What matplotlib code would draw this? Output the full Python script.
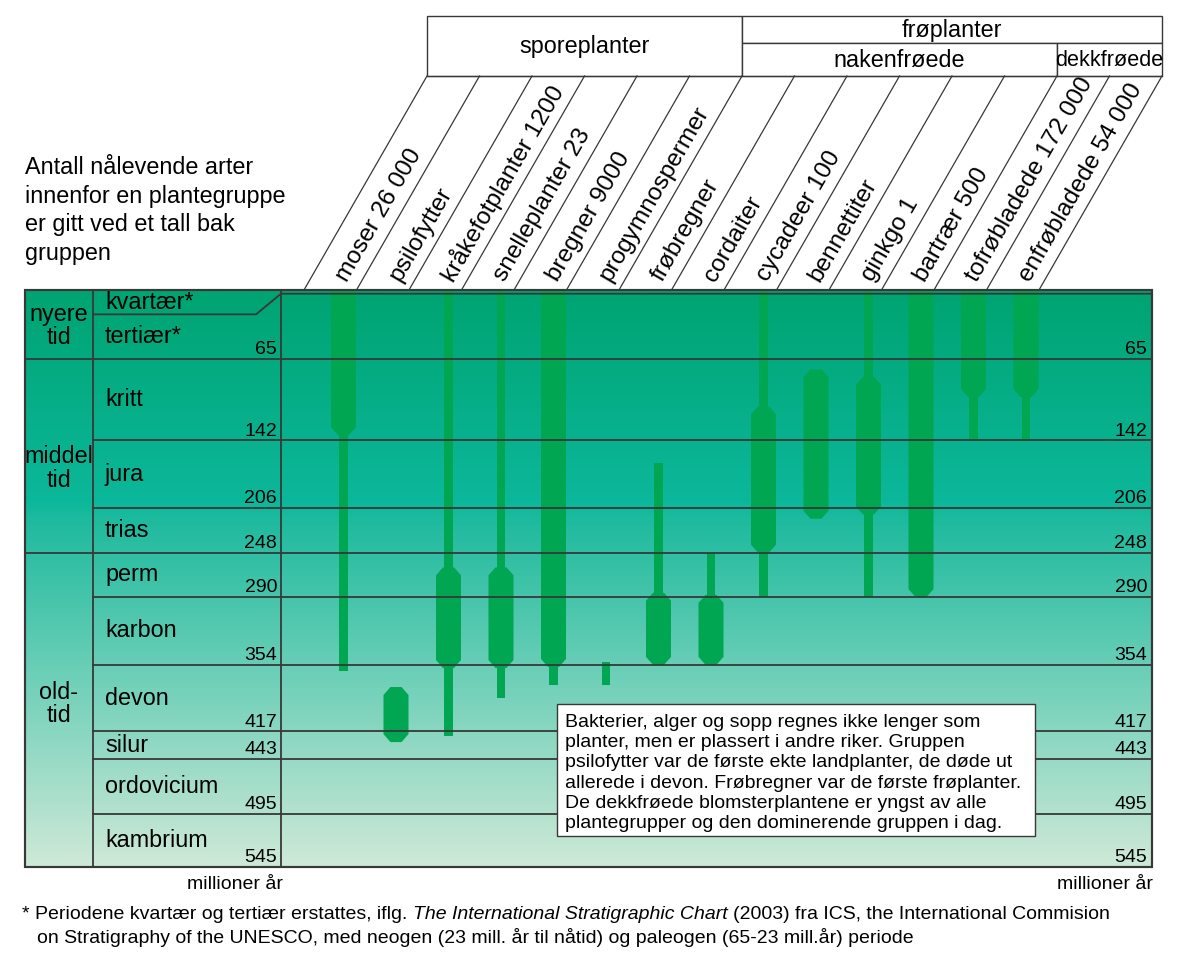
import matplotlib
matplotlib.use('Agg')
import matplotlib.pyplot as plt
import numpy as np
from matplotlib.patches import Polygon, Rectangle
from matplotlib.colors import LinearSegmentedColormap

plt.rcParams['font.family'] = ['Liberation Sans', 'DejaVu Sans']

# plantegrupper og antall nålevende arter
groups = ['moser', 'psilofytter', 'kråkefotplanter', 'snelleplanter', 'bregner',
          'progymnospermer', 'frøbregner', 'cordaiter', 'cycadeer', 'bennettiter',
          'ginkgo', 'bartrær', 'tofrøbladede', 'enfrøbladede']
species = ['26 000', '', '1200', '23', '9000', '', '', '', '100', '', '1', '500',
           '172 000', '54 000']

# tynn strek = gruppen finnes, tykk del = mange arter (mill. år siden)
thin = [(0, 360), None, (0, 421), (0, 385), (0, 373), (351, 373), (163, 354),
        (248, 354), (0, 290), None, (0, 290), None, (0, 141), (0, 141)]
thick = [(0, 137), (375, 427), (262, 357), (262, 357), (0, 356), None, (286, 354),
         (288, 354), (110, 248), (75, 216), (82, 212), (0, 290), (0, 101), (0, 101)]

periods = ['kvartær*', 'tertiær*', 'kritt', 'jura', 'trias', 'perm', 'karbon',
           'devon', 'silur', 'ordovicium', 'kambrium']
period_end = [3.5, 65, 142, 206, 248, 290, 354, 417, 443, 495, 545]
eras = ['nyere\ntid', 'middel\ntid', 'old-\ntid']
era_end = [65, 248, 545]

# (tekst, første kolonne, siste kolonne, øverste rad, nederste rad)
headers = [('sporeplanter', 0, 6, 0, 2), ('frøplanter', 6, 14, 0, 1),
           ('nakenfrøede', 6, 12, 1, 2), ('dekkfrøede', 12, 14, 1, 2)]

note = ['Bakterier, alger og sopp regnes ikke lenger som',
        'planter, men er plassert i andre riker. Gruppen',
        'psilofytter var de første ekte landplanter, de døde ut',
        'allerede i devon. Frøbregner var de første frøplanter.',
        'De dekkfrøede blomsterplantene er yngst av alle',
        'plantegrupper og den dominerende gruppen i dag.']
intro = ['Antall nålevende arter', 'innenfor en plantegruppe',
         'er gitt ved et tall bak', 'gruppen']

# --- layout (piksler) ---
W, H = 1200, 965
X0, STEP = 343.5, 52.5          # midten av første kolonne, kolonnebredde
LEFT, RIGHT, TOP, BOTTOM = 25, 1152, 290, 867
ERA_X, PER_X = 93, 281
GREEN = '#00A651'
LINE = '#383838'
BIG, SMALL = 16.8, 14


def ix(p):
    return (p - X0) / STEP


fig = plt.figure(figsize=(W / 100, H / 100), dpi=100)
tab = fig.add_axes([LEFT / W, 1 - BOTTOM / H, (RIGHT - LEFT) / W, (BOTTOM - TOP) / H])
xlo, xhi = ix(LEFT), ix(RIGHT)
tab.set_xlim(xlo, xhi)
tab.set_ylim(545, 0)
tab.axis('off')

cmap = LinearSegmentedColormap.from_list('bg', [
    (0, '#00A472'), (200 / 545, '#0CB89B'), (215 / 545, '#1DBA9E'), (1, '#CEE9D7')])
grad = np.linspace(0, 545, 400).reshape(-1, 1)
tab.imshow(grad, extent=[xlo, xhi, 545, 0], aspect='auto', cmap=cmap,
           vmin=0, vmax=545, zorder=0)

# søyler
wide = 25 / STEP
narrow = 8.5 / STEP
cx, cy = 7 / STEP, 7.5
for i in range(len(groups)):
    if thin[i]:
        a, b = thin[i]
        tab.bar(i, b - a, bottom=a, width=narrow, color=GREEN, zorder=2)
    if thick[i]:
        a, b = thick[i]
        h = wide / 2
        if a > 0:
            pts = [(i - h, a + cy), (i - h + cx, a), (i + h - cx, a), (i + h, a + cy)]
        else:
            pts = [(i - h, a), (i + h, a)]
        pts += [(i + h, b - cy), (i + h - cx, b), (i - h + cx, b), (i - h, b - cy)]
        tab.add_patch(Polygon(pts, closed=True, fc=GREEN, ec='none', zorder=2))

# tabellinjer
lw = 1.3
kv_label = 23   # kvartær-raden er tegnet høyere i navnekolonnen
for k, (name, end) in enumerate(zip(periods, period_end)):
    start = 0 if k == 0 else period_end[k - 1]
    if k == 0:
        tab.plot([ix(ERA_X), ix(256), ix(PER_X), xhi], [kv_label, kv_label, end, end],
                 color=LINE, lw=lw, zorder=3)
        mid = kv_label / 2
    else:
        if k == 1:
            mid = (kv_label + end) / 2
        else:
            mid = (start + end) / 2
        if end < 545:
            x_from = xlo if end in era_end else ix(ERA_X)
            tab.plot([x_from, xhi], [end, end], color=LINE, lw=lw, zorder=3)
        tab.text(ix(277), end - 4.5, str(end), ha='right', va='baseline', fontsize=SMALL, zorder=4)
        tab.text(ix(1147), end - 4.5, str(end), ha='right', va='baseline', fontsize=SMALL, zorder=4)
    tab.text(ix(105), mid, name, ha='left', va='center', fontsize=BIG, zorder=4)

era_label_at = [34, 169, 391]
for name, y in zip(eras, era_label_at):
    tab.text(ix(59), y, name, ha='center', va='center', fontsize=BIG,
             linespacing=1.05, zorder=4)

for xv in (ix(ERA_X), ix(PER_X)):
    tab.plot([xv, xv], [0, 545], color=LINE, lw=lw, zorder=3)
tab.add_patch(Rectangle((xlo, 0), xhi - xlo, 545, fill=False, ec=LINE, lw=lw * 1.2,
                        zorder=5, clip_on=False))

# overlegg i piksler
ov = fig.add_axes([0, 0, 1, 1])
ov.set_xlim(0, W)
ov.set_ylim(H, 0)
ov.axis('off')
ov.set_zorder(3)

strip_bot = X0 - 39.5
strip_top = 427
head_y = [16, 43, 76]
ang = np.radians(60)
for k in range(len(groups) + 1):
    ov.plot([strip_bot + STEP * k, strip_top + STEP * k], [TOP, head_y[2]],
            color=LINE, lw=0.9)
ov.plot([strip_top, strip_top + STEP * len(groups)], [head_y[2], head_y[2]], color=LINE, lw=0.9)

for k, (g, n) in enumerate(zip(groups, species)):
    label = g + (' ' + n if n else '')
    d = 12
    x = strip_bot + 26.25 + 6 + STEP * k + d * np.cos(ang)
    y = TOP - d * np.sin(ang)
    ov.text(x, y, label, rotation=60, rotation_mode='anchor', ha='left',
            va='center', fontsize=17.6)

for text, c0, c1, r0, r1 in headers:
    x0, x1 = strip_top + STEP * c0, strip_top + STEP * c1
    ov.add_patch(Rectangle((x0, head_y[r0]), x1 - x0, head_y[r1] - head_y[r0],
                           fc='white', ec=LINE, lw=1.0))
    fs = BIG if x1 - x0 > 120 else 15.6
    ov.text((x0 + x1) / 2, (head_y[r0] + head_y[r1]) / 2 + 1, text, ha='center',
            va='center', fontsize=fs)

for j, line in enumerate(intro):
    ov.text(25, 174 + 28.6 * j, line, ha='left', va='baseline', fontsize=BIG)

ov.add_patch(Rectangle((557, 704), 478, 132, fc='white', ec=LINE, lw=1.0))
for j, line in enumerate(note):
    ov.text(565, 727 + 20.2 * j, line, ha='left', va='baseline', fontsize=SMALL)

ov.text(283, 889, 'millioner år', ha='right', va='baseline', fontsize=SMALL)
ov.text(1153, 889, 'millioner år', ha='right', va='baseline', fontsize=SMALL)

t1 = ov.text(22, 919, '* Periodene kvartær og tertiær erstattes, iflg.', ha='left',
             va='baseline', fontsize=SMALL)
t2 = ov.annotate('The International Stratigraphic Chart', xy=(1, 0), xycoords=t1,
                 xytext=(4, 0), textcoords='offset points', ha='left', va='bottom',
                 fontsize=SMALL, style='italic')
ov.annotate('(2003) fra ICS, the International Commision', xy=(1, 0), xycoords=t2,
            xytext=(4, 0), textcoords='offset points', ha='left', va='bottom',
            fontsize=SMALL)
ov.text(37, 943, 'on Stratigraphy of the UNESCO, med neogen (23 mill. år til nåtid) '
        'og paleogen (65-23 mill.år) periode', ha='left', va='baseline', fontsize=SMALL)

fig.savefig('out.png', dpi=100)
